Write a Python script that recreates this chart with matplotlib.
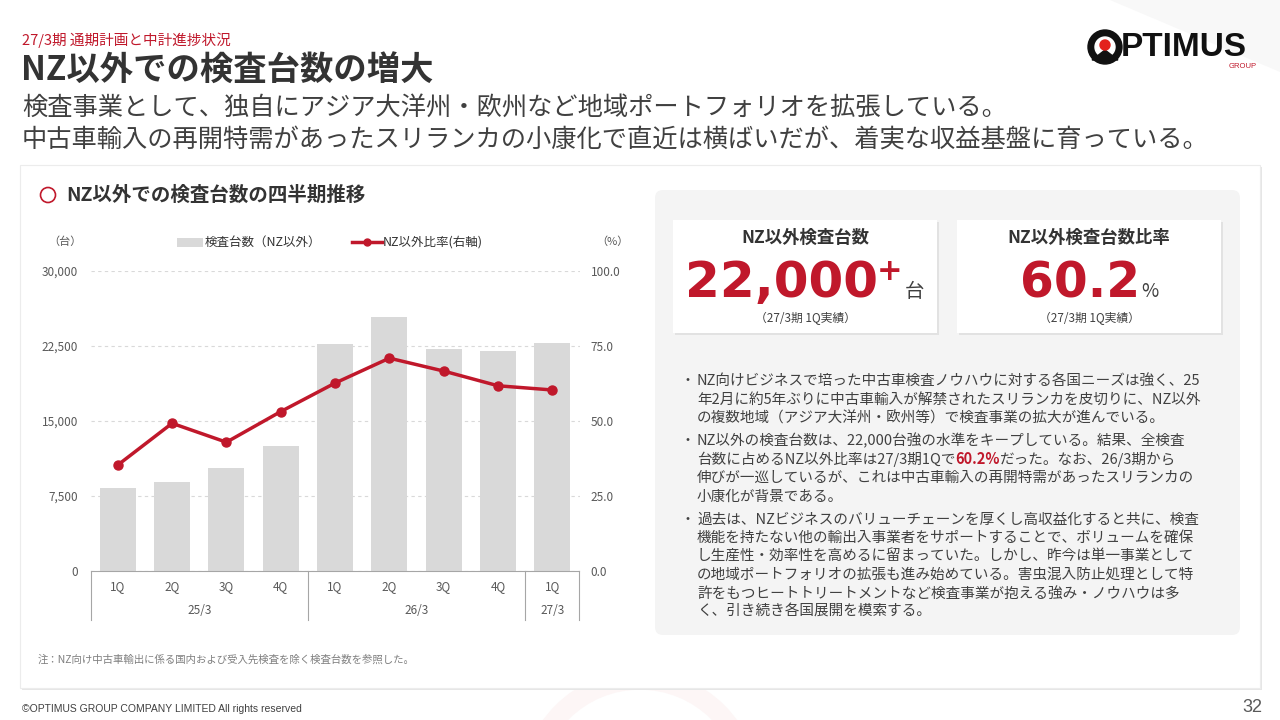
import matplotlib
matplotlib.use("Agg")
import matplotlib.pyplot as plt
from matplotlib.patches import Rectangle, FancyBboxPatch, Circle, Polygon
from matplotlib.lines import Line2D

plt.rcParams['font.family'] = ['Noto Sans CJK JP', 'DejaVu Sans']

# ---- data ----
quarters = ['1Q', '2Q', '3Q', '4Q', '1Q', '2Q', '3Q', '4Q', '1Q']
fiscal_years = ['25/3', '26/3', '27/3']
year_spans = [4, 4, 1]
counts = [8300, 8900, 10300, 12500, 22700, 25400, 22200, 22000, 22800]
ratios = [35.2, 49.1, 42.8, 53.0, 62.5, 70.8, 66.5, 61.6, 60.2]
left_ticks = [0, 7500, 15000, 22500, 30000]
right_ticks = [0, 25, 50, 75, 100]

bullets = [
    ["NZ向けビジネスで培った中古車検査ノウハウに対する各国ニーズは強く、25",
     "年2月に約5年ぶりに中古車輸入が解禁されたスリランカを皮切りに、NZ以外",
     "の複数地域（アジア大洋州・欧州等）で検査事業の拡大が進んでいる。"],
    ["NZ以外の検査台数は、22,000台強の水準をキープしている。結果、全検査",
     ["台数に占めるNZ以外比率は27/3期1Qで", "60.2%", "だった。なお、26/3期から"],
     "伸びが一巡しているが、これは中古車輸入の再開特需があったスリランカの",
     "小康化が背景である。"],
    ["過去は、NZビジネスのバリューチェーンを厚くし高収益化すると共に、検査",
     "機能を持たない他の輸出入事業者をサポートすることで、ボリュームを確保",
     "し生産性・効率性を高めるに留まっていた。しかし、昨今は単一事業として",
     "の地域ポートフォリオの拡張も進み始めている。害虫混入防止処理として特",
     "許をもつヒートトリートメントなど検査事業が抱える強み・ノウハウは多",
     "く、引き続き各国展開を模索する。"],
]

RED = '#c0182b'
DARK = '#333333'
TXT = '#404040'
BAR = '#d9d9d9'

fig = plt.figure(figsize=(12.8, 7.2), dpi=100)
fig.patch.set_facecolor('white')
bg = fig.add_axes([0, 0, 1, 1])
bg.set_xlim(0, 1280)
bg.set_ylim(720, 0)
bg.axis('off')

# corner decoration / watermark
bg.add_patch(Polygon([(1110, 0), (1280, 0), (1280, 72)], closed=True, color='#f8f8f8', lw=0))
bg.add_patch(Circle((640, 790), 110, fill=False, ec='#fdf6f6', lw=14))

# header
bg.text(22, 40, "27/3期 通期計画と中計進捗状況", color=RED, fontsize=10.5, va='center')
bg.text(21, 71, "NZ以外での検査台数の増大", color=DARK, fontsize=24, fontweight='bold', va='center')
bg.text(22, 108, "検査事業として、独自にアジア大洋州・欧州など地域ポートフォリオを拡張している。",
        color=TXT, fontsize=18.2, va='center')
bg.text(22, 140, "中古車輸入の再開特需があったスリランカの小康化で直近は横ばいだが、着実な収益基盤に育っている。",
        color=TXT, fontsize=18.2, va='center')

# logo
bg.add_patch(Circle((1105, 47), 17, color='#111111'))
bg.add_patch(Circle((1105, 47), 10, color='white'))
bg.add_patch(Polygon([(1105, 50), (1092, 60), (1118, 60)], closed=True, color='#111111'))
bg.add_patch(Circle((1105, 45), 5, color='#e3211c'))
bg.text(1121, 48, "PTIMUS", color='#111111', fontsize=24, fontweight='bold',
        family='Liberation Sans', va='center')
bg.text(1257, 66, "GROUP", color=RED, fontsize=5.5, family='Liberation Sans', ha='right', va='center')

# main card with shadow
bg.add_patch(Rectangle((22, 167), 1240, 523, color='#e6e6e6', lw=0))
bg.add_patch(Rectangle((20, 165), 1240, 523, fc='white', ec='#ececec', lw=0.8))

# chart title
bg.add_patch(Circle((48, 195), 7.5, fill=False, ec=RED, lw=1.2))
bg.text(66, 195, "NZ以外での検査台数の四半期推移", color=DARK, fontsize=14, fontweight='bold', va='center')

# units and legend
bg.text(48, 242, "（台）", color='#595959', fontsize=8, va='center')
bg.text(596, 242, "（%）", color='#595959', fontsize=8, va='center')
bg.add_patch(Rectangle((177, 238), 26, 9, color=BAR, lw=0))
bg.text(205, 242, "検査台数（NZ以外）", color=DARK, fontsize=9, va='center')
bg.add_line(Line2D([352, 382], [242, 242], color=RED, lw=2.5))
bg.add_line(Line2D([367], [242], color=RED, marker='o', ms=5))
bg.text(383, 242, "NZ以外比率(右軸)", color=DARK, fontsize=9, va='center')

# ---- chart ----
def px_axes(x0, y0, x1, y1):
    return fig.add_axes([x0 / 1280, 1 - y1 / 720, (x1 - x0) / 1280, (y1 - y0) / 720])

ax = px_axes(90.6, 270.5, 579.5, 570.7)
ax.patch.set_alpha(0)
x = list(range(len(counts)))
ax.bar(x, counts, width=0.66, color=BAR, zorder=2)
ax.set_xlim(-0.5, len(counts) - 0.5)
ax.set_ylim(0, 30000)
ax.set_yticks(left_ticks)
ax.set_yticklabels([f'{v:,}' for v in left_ticks])
ax.yaxis.grid(True, ls=(0, (3, 3)), color='#d9d9d9', lw=0.8)
ax.set_axisbelow(True)
for s in ['top', 'left', 'right']:
    ax.spines[s].set_visible(False)
ax.spines['bottom'].set_color('#a6a6a6')
ax.tick_params(axis='y', length=0, pad=9, labelsize=8.5, labelcolor='#595959')
ax.set_xticks([])

ax2 = ax.twinx()
ax2.plot(x, ratios, color=RED, lw=2.5, marker='o', ms=6.5, zorder=3)
ax2.set_ylim(0, 100)
ax2.set_yticks(right_ticks)
ax2.set_yticklabels([f'{v:.1f}' for v in right_ticks])
ax2.tick_params(axis='y', length=0, pad=8, labelsize=8.5, labelcolor='#595959')
for s in ax2.spines.values():
    s.set_visible(False)

# multi-level category axis
tr = ax.get_xaxis_transform()
for i, q in enumerate(quarters):
    ax.text(i, -0.053, q, transform=tr, ha='center', va='center', fontsize=8.5, color='#595959')
start = 0
bounds = [-0.5]
for fy, n in zip(fiscal_years, year_spans):
    ax.text(start + (n - 1) / 2, -0.134, fy, transform=tr, ha='center', va='center',
            fontsize=8.5, color='#595959')
    start += n
    bounds.append(start - 0.5)
for b in bounds:
    ax.plot([b, b], [0, -0.165], transform=tr, color='#a6a6a6', lw=0.8, clip_on=False)

bg.text(38, 660, "注：NZ向け中古車輸出に係る国内および受入先検査を除く検査台数を参照した。",
        color='#7f7f7f', fontsize=7.5, va='center')

# ---- right panel ----
bg.add_patch(FancyBboxPatch((655, 190), 585, 445, boxstyle='round,pad=0,rounding_size=8',
                            fc='#f4f4f4', ec='none'))
for cx0 in [673, 957]:
    bg.add_patch(Rectangle((cx0 + 2, 222), 264, 113, color='#e2e2e2', lw=0))
    bg.add_patch(Rectangle((cx0, 220), 264, 113, color='white', lw=0))

bg.text(805, 238, "NZ以外検査台数", color=DARK, fontsize=12.5, fontweight='bold', ha='center', va='center')
bg.text(1089, 238, "NZ以外検査台数比率", color=DARK, fontsize=12.5, fontweight='bold', ha='center', va='center')
bg.text(685, 297, "22,000", color=RED, fontsize=36, fontweight='bold', family='DejaVu Sans',
        ha='left', va='baseline')
bg.text(890, 272, "+", color=RED, fontsize=22, fontweight='bold', family='DejaVu Sans',
        ha='center', va='center')
bg.text(905, 297, "台", color=TXT, fontsize=14, ha='left', va='baseline')
bg.text(1020, 297, "60.2", color=RED, fontsize=35, fontweight='bold', family='DejaVu Sans',
        ha='left', va='baseline')
bg.text(1141, 297, "%", color=TXT, fontsize=13.5, ha='left', va='baseline')
bg.text(805, 318, "（27/3期 1Q実績）", color=TXT, fontsize=8.5, ha='center', va='center')
bg.text(1089, 318, "（27/3期 1Q実績）", color=TXT, fontsize=8.5, ha='center', va='center')

# bullets
renderer = fig.canvas.get_renderer()
y = 381
for para in bullets:
    bg.text(680, y, "・", color=TXT, fontsize=10, va='center')
    for line in para:
        if isinstance(line, list):
            xx = 697
            for k, seg in enumerate(line):
                red = (k == 1)
                t = bg.text(xx, y, seg, color=RED if red else TXT, fontsize=10.5,
                            fontweight='bold' if red else 'normal', va='center')
                xx += t.get_window_extent(renderer).width
        else:
            bg.text(697, y, line, color=TXT, fontsize=10.5, va='center')
        y += 18.5
    y += 4.5

# footer
bg.text(22, 709, "©OPTIMUS GROUP COMPANY LIMITED All rights reserved", color='#404040',
        fontsize=7.5, family=['Liberation Sans Narrow', 'Liberation Sans'], va='center')
bg.text(1262, 707, "32", color='#595959', fontsize=13,
        family=['Liberation Sans Narrow', 'Liberation Sans'], ha='right', va='center')

fig.savefig('out.png', dpi=100)
